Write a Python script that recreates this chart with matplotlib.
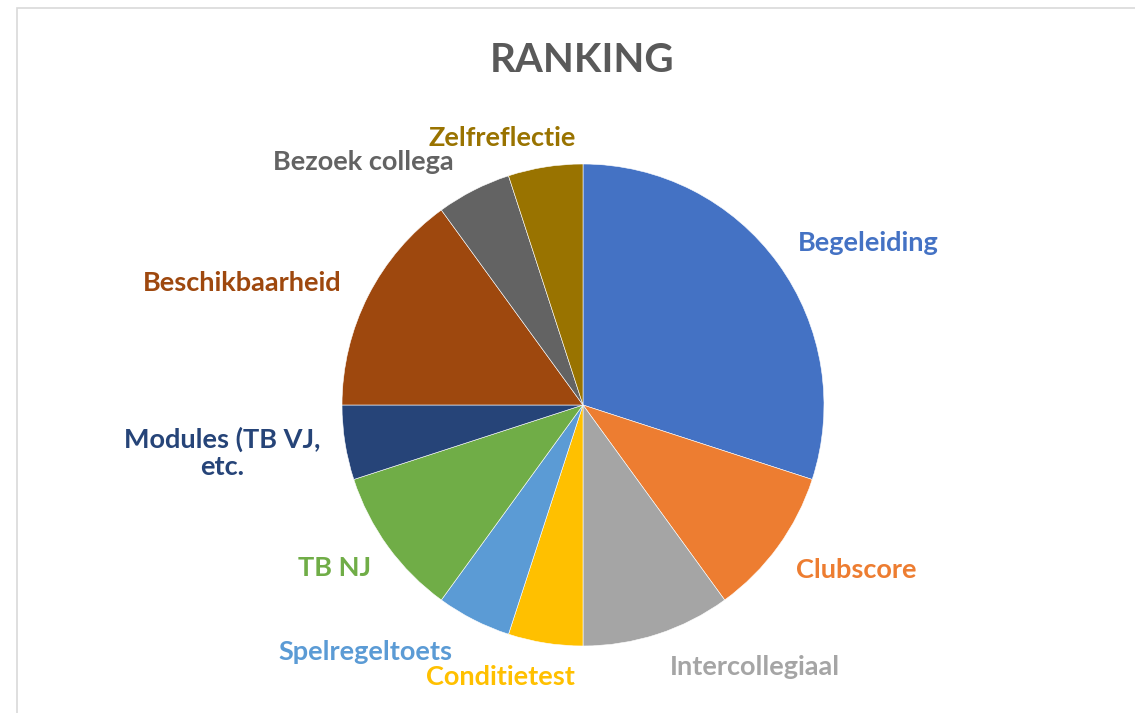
import matplotlib
matplotlib.use("Agg")
import matplotlib.pyplot as plt
from matplotlib.patches import Rectangle

categories = ["Begeleiding", "Clubscore", "Intercollegiaal", "Conditietest",
              "Spelregeltoets", "TB NJ", "Modules (TB VJ,\netc.", "Beschikbaarheid",
              "Bezoek collega", "Zelfreflectie"]
values = [30, 10, 10, 5, 5, 10, 5, 15, 5, 5]
colors = ["#4472C4", "#ED7D31", "#A5A5A5", "#FFC000", "#5B9BD5", "#70AD47",
          "#264478", "#9E480E", "#636363", "#997300"]

# label centres in pixels (layout)
label_px = [(868, 243), (856, 570), (755, 667), (500, 677), (365, 652),
            (335, 568), (222, 453), (242, 283), (363, 162), (502, 138)]

W, H = 1135, 713
cx, cy, R = 583, 405, 241

fig = plt.figure(figsize=(W / 100, H / 100), dpi=100)
ax = fig.add_axes([0, 0, 1, 1])
ax.pie(values, colors=colors, startangle=90, counterclock=False, radius=1.0,
       wedgeprops=dict(edgecolor="white", linewidth=0.4))
ax.set_xlim(-cx / R, (W - cx) / R)
ax.set_ylim((cy - H) / R, cy / R)
ax.set_aspect("auto")
ax.axis("off")

for lab, (px, py), col in zip(categories, label_px, colors):
    ax.text((px - cx) / R, (cy - py) / R, lab, color=col, fontsize=19.5,
            fontweight="bold", family=["Lato", "DejaVu Sans"],
            ha="center", va="center", linespacing=1.15)

fig.text(582 / W, 1 - 60 / H, "RANKING", color="#595959", fontsize=29,
         fontweight="bold", family=["Lato", "DejaVu Sans"], ha="center", va="center")

fig.patches.append(Rectangle((17 / W, -0.1), 1.5, 1.1 - 8 / H,
                             transform=fig.transFigure, fill=False,
                             edgecolor="#D9D9D9", linewidth=1.2))

fig.savefig("out.png", dpi=100)
